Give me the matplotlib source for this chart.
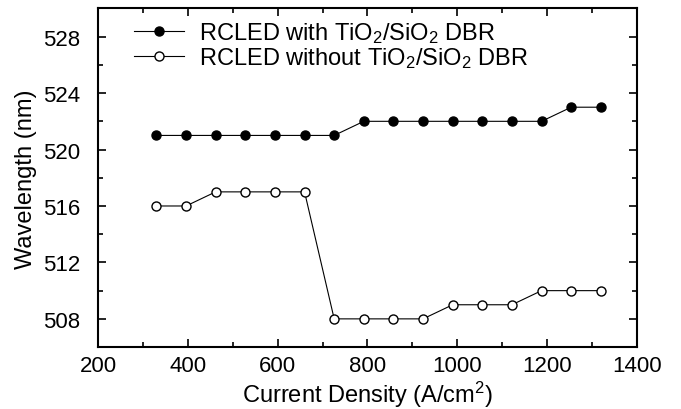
import matplotlib
matplotlib.use("Agg")
import matplotlib.pyplot as plt
from matplotlib.ticker import MultipleLocator

plt.rcParams['font.family'] = ['Liberation Sans', 'DejaVu Sans']
plt.rcParams['mathtext.fontset'] = 'custom'
plt.rcParams['mathtext.rm'] = 'Liberation Sans'
plt.rcParams['mathtext.default'] = 'regular'

current = [330, 396, 462, 528, 594, 660, 726, 792, 858, 924, 990, 1056, 1122, 1188, 1254, 1320]
with_dbr = [521, 521, 521, 521, 521, 521, 521, 522, 522, 522, 522, 522, 522, 522, 523, 523]
without_dbr = [516, 516, 517, 517, 517, 517, 508, 508, 508, 508, 509, 509, 509, 510, 510, 510]

fig = plt.figure(figsize=(6.81, 4.10), dpi=100)
ax = fig.add_axes([0.144, 0.151, 0.791, 0.826])

ax.plot(current, with_dbr, '-o', color='black', lw=0.8, ms=6.5, mfc='black', mec='black',
        label=r'RCLED with TiO$_2$/SiO$_2$ DBR')
ax.plot(current, without_dbr, '-o', color='black', lw=0.8, ms=6.5, mfc='white', mec='black',
        label=r'RCLED without TiO$_2$/SiO$_2$ DBR')

ax.set_xlim(200, 1400)
ax.set_ylim(506, 530)
ax.xaxis.set_major_locator(MultipleLocator(200))
ax.xaxis.set_minor_locator(MultipleLocator(100))
ax.yaxis.set_major_locator(MultipleLocator(4))
ax.yaxis.set_minor_locator(MultipleLocator(2))
ax.tick_params(which='both', direction='in', top=True, right=True, labelsize=16, width=1.2)
ax.tick_params(which='major', length=6)
ax.tick_params(which='minor', length=3.5)
ax.tick_params(axis='x', pad=6)
ax.tick_params(axis='y', pad=13)
for s in ax.spines.values():
    s.set_linewidth(1.5)

ax.set_xlabel(r'Current Density (A/cm$^2$)', fontsize=17, labelpad=2)
ax.set_ylabel('Wavelength (nm)', fontsize=17, labelpad=4)

ax.legend(loc='upper left', frameon=False, fontsize=17, labelspacing=0.0,
          handlelength=2.1, handletextpad=0.65, borderaxespad=0.0,
          bbox_to_anchor=(0.05, 0.993))

fig.savefig('out.png', dpi=100)
